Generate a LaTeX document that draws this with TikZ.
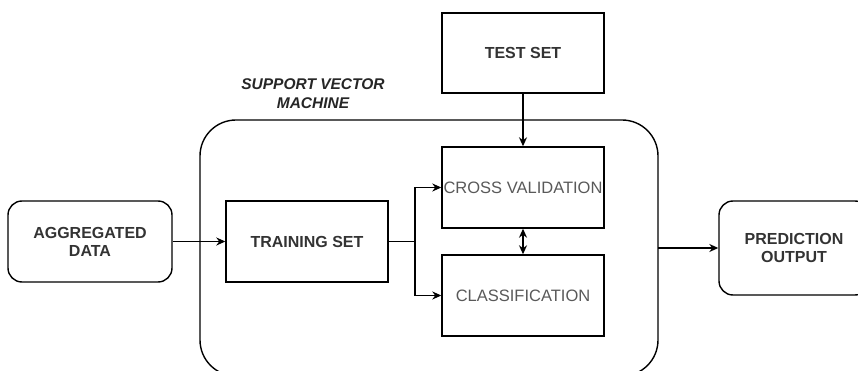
\documentclass[tikz,border=0pt]{standalone}
\usepackage{fontspec}
\setmainfont{Liberation Sans}
\usetikzlibrary{arrows.meta}
\begin{document}
\begin{tikzpicture}[x=1pt,y=-1pt,
  box/.style={draw=black,line width=1.4pt,minimum width=162pt,minimum height=81pt,inner sep=0pt,align=center,font=\fontsize{16}{18}\selectfont\bfseries,text=black!80},
  lbox/.style={box,font=\fontsize{16.5}{18}\selectfont,text=black!65},
  rbox/.style={box,rounded corners=14pt},
  arr/.style={line width=1.4pt,-{Stealth[length=9pt,width=8pt]}},
  darr/.style={line width=1.4pt,{Stealth[length=9pt,width=8pt]}-{Stealth[length=9pt,width=8pt]}}]
\useasboundingbox (0,0) rectangle (858,371);
\begin{scope}
\clip (0,0) rectangle (858,371);
\draw[line width=1.4pt,rounded corners=36pt] (200,120) rectangle (658,376);
\end{scope}
\node[rbox,minimum width=164pt] (agg) at (90,241.5) {AGGREGATED\\DATA};
\node[box] (train) at (307,241.5) {TRAINING SET};
\node[lbox] (cv) at (523,187.5) {CROSS VALIDATION};
\node[lbox] (cls) at (523,295.5) {CLASSIFICATION};
\node[box,minimum height=80pt] (test) at (523,53) {TEST SET};
\node[rbox,minimum width=150pt,minimum height=94pt] (pred) at (794,248) {PREDICTION\\OUTPUT};
\node[align=center,font=\fontsize{15.5}{19}\selectfont\bfseries\itshape,text=black!85] (svm) at (313,94) {SUPPORT VECTOR\\MACHINE};
\coordinate (br) at (415,241.5);
\coordinate (cr) at (658,248);
\draw[arr] (agg.east) -- (train.west);
\draw[line width=1.4pt] (train.east) -- (br);
\draw[arr] (br) |- (cv.west);
\draw[arr] (br) |- (cls.west);
\draw[arr] (test.south) -- (cv.north);
\draw[darr] (cv.south) -- (cls.north);
\draw[arr] (cr) -- (pred.west);
\end{tikzpicture}
\end{document}
